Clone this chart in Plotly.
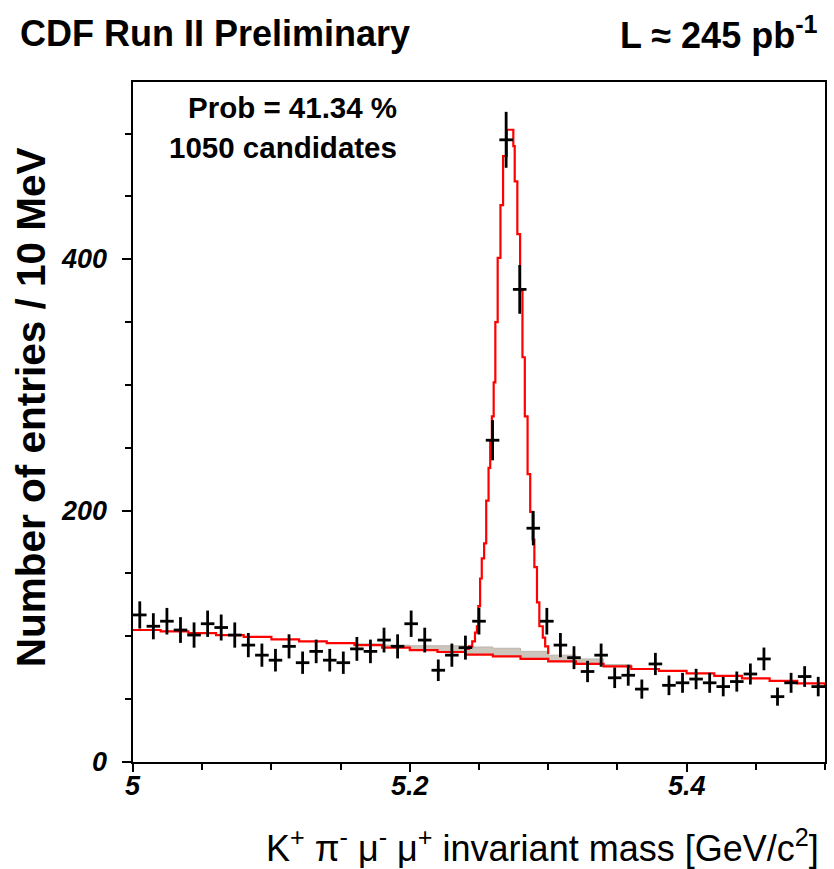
import numpy as np
import plotly.graph_objects as go

# ---- binned data: K+ pi- mu- mu+ invariant mass, 51 bins from 5.0 to 5.5 GeV
bin_lo, bin_hi, n_bins = 5.0, 5.5, 51
bin_width = (bin_hi - bin_lo) / n_bins
bin_centers = bin_lo + (np.arange(n_bins) + 0.5) * bin_width

counts = [117, 108, 112, 105, 101, 110, 107, 101, 93, 85,
          81, 92, 79, 88, 81, 79, 90, 88, 97, 92,
          110, 97, 73, 85, 91, 112, 256, 495, 376, 186,
          112, 93, 83, 72, 85, 67, 69, 58, 78, 61,
          63, 66, 63, 60, 64, 70, 82, 52, 63, 68, 60]

# ---- fitted combinatorial background (drawn as a stepped line)
bg_mass = [5.00, 5.02, 5.04, 5.06, 5.08, 5.10, 5.12, 5.14, 5.16, 5.18,
           5.20, 5.22, 5.24, 5.26, 5.28, 5.30, 5.32, 5.34, 5.36, 5.38,
           5.40, 5.42, 5.44, 5.46, 5.48, 5.50]
bg_vals = [105, 104, 102.5, 101, 99.5, 97.5, 96, 94.5, 93, 91,
           89, 87.5, 85.5, 84, 82, 80, 78, 76, 74, 72.5,
           70.5, 68.5, 66.5, 64.5, 62.5, 60.5]

# ---- additional background component stacked on top (grey band)
extra_mass = [5.14, 5.16, 5.18, 5.20, 5.22, 5.24, 5.26, 5.28, 5.30, 5.32, 5.34, 5.36]
extra_vals = [0, 1, 2, 3.5, 5, 6, 6.5, 6, 5, 4, 1.5, 0]

# ---- total fit in the signal region
fit_mass = [5.2402, 5.2427, 5.2451, 5.2471, 5.2485, 5.2495, 5.2508, 5.2520,
            5.2537, 5.2552, 5.2569, 5.2581, 5.2593, 5.2606, 5.2618, 5.2635,
            5.2655, 5.2674, 5.2701, 5.2748, 5.2758, 5.2777, 5.2797, 5.2814,
            5.2831, 5.2851, 5.2870, 5.2887, 5.2900, 5.2919, 5.2936, 5.2961,
            5.2978, 5.3000]
fit_vals = [90, 92, 96, 103, 108, 124, 146, 162,
            174, 208, 234, 256, 275, 302, 350, 401,
            443, 482, 503, 490, 462, 420, 375, 322,
            275, 229, 199, 177, 155, 127, 108, 99,
            92, 86]

x_ticks = [5.0, 5.2, 5.4]
x_tick_text = ["5", "5.2", "5.4"]
y_ticks = [0, 200, 400]
y_tick_text = ["0", "200", "400"]

FONT = "Liberation Sans, Arial, sans-serif"

# grey band sits on the background line
lookup = dict(zip(np.round(bg_mass, 3), bg_vals))
extra_base = [lookup[round(m, 3)] for m in extra_mass]
extra_top = [b + e for b, e in zip(extra_base, extra_vals)]

fig = go.Figure()

fig.add_trace(go.Scatter(
    x=extra_mass, y=extra_base, mode="lines",
    line=dict(width=0, shape="hv"), hoverinfo="skip", showlegend=False))
fig.add_trace(go.Scatter(
    x=extra_mass, y=extra_top, mode="lines",
    line=dict(width=1, color="#bdb6ad", shape="hv"),
    fill="tonexty", fillcolor="#cbc5bc", hoverinfo="skip", showlegend=False))

fig.add_trace(go.Scatter(
    x=bg_mass, y=bg_vals, mode="lines",
    line=dict(color="#ff0000", width=2.2, shape="hv"), showlegend=False))

fig.add_trace(go.Scatter(
    x=fit_mass, y=fit_vals, mode="lines",
    line=dict(color="#ff0000", width=2.2, shape="hv"), showlegend=False))

fig.add_trace(go.Scatter(
    x=bin_centers, y=counts, mode="markers",
    marker=dict(size=2, color="black"),
    error_y=dict(type="data", array=np.sqrt(counts), width=0, thickness=2.8, color="black"),
    error_x=dict(type="constant", value=bin_width / 2, width=0, thickness=2.8, color="black"),
    showlegend=False))

fig.update_xaxes(
    range=[bin_lo, bin_hi], showgrid=False, zeroline=False,
    showline=True, linecolor="black", linewidth=2, mirror=True,
    ticks="outside", ticklen=8, tickwidth=2, tickcolor="black",
    tickvals=x_ticks, showticklabels=False,
    minor=dict(dtick=0.05, tick0=5.0, ticks="outside", ticklen=6, tickwidth=1.5, tickcolor="black"))
fig.update_yaxes(
    range=[0, 541], showgrid=False, zeroline=False,
    showline=True, linecolor="black", linewidth=2, mirror=True,
    ticks="outside", ticklen=9, tickwidth=2, tickcolor="black",
    tickvals=y_ticks, showticklabels=False,
    minor=dict(dtick=50, tick0=0, ticks="outside", ticklen=6, tickwidth=1.5, tickcolor="black"))

L, R, T, B = 133, 827, 82, 762
W, H = 834, 869
pw, ph = R - L, B - T


def px(xp):
    return (xp - L) / pw


def py(yp):
    return (B - yp) / ph


tick_font = dict(family=FONT, size=27, color="black", weight="bold", style="italic")

annotations = []
# tick labels placed at their data values
for v, t in zip(x_ticks, x_tick_text):
    annotations.append(dict(text=t, x=v, xref="x", y=py(786), yref="paper",
                            xanchor="center", yanchor="middle", font=dict(tick_font)))
for v, t in zip(y_ticks, y_tick_text):
    annotations.append(dict(text=t, x=px(109), xref="paper", y=v, yref="y",
                            xanchor="right", yanchor="middle", font=dict(tick_font)))

texts = [
    dict(text="<b>CDF Run II Preliminary</b>", x=px(18), y=py(33),
         xanchor="left", yanchor="middle", font=dict(family=FONT, size=36)),
    dict(text="<b>L ≈ 245 pb<sup>-1</sup></b>", x=px(822), y=py(33),
         xanchor="right", yanchor="middle", font=dict(family=FONT, size=36)),
    dict(text="<b>Prob = 41.34 %</b>", x=px(400), y=py(108),
         xanchor="right", yanchor="middle", font=dict(family=FONT, size=29.5)),
    dict(text="<b>1050 candidates</b>", x=px(400), y=py(147),
         xanchor="right", yanchor="middle", font=dict(family=FONT, size=29.5)),
    dict(text="<b>Number of entries / 10 MeV</b>", x=px(31), y=py(407),
         xanchor="center", yanchor="middle", textangle=-90,
         font=dict(family=FONT, size=40.5)),
    dict(text="K<sup>+</sup> π<sup>-</sup> μ<sup>-</sup> μ<sup>+</sup> invariant mass [GeV/c<sup>2</sup>]",
         x=px(823), y=py(846), xanchor="right", yanchor="middle",
         font=dict(family=FONT, size=36)),
]
for a in texts:
    a.update(xref="paper", yref="paper")
annotations += texts
for a in annotations:
    a["showarrow"] = False
    a["font"]["color"] = "black"

fig.update_layout(
    width=W, height=H,
    margin=dict(l=L, r=W - R, t=T, b=H - B, pad=0),
    paper_bgcolor="white", plot_bgcolor="white",
    annotations=annotations,
)

fig.write_html("out.html")
